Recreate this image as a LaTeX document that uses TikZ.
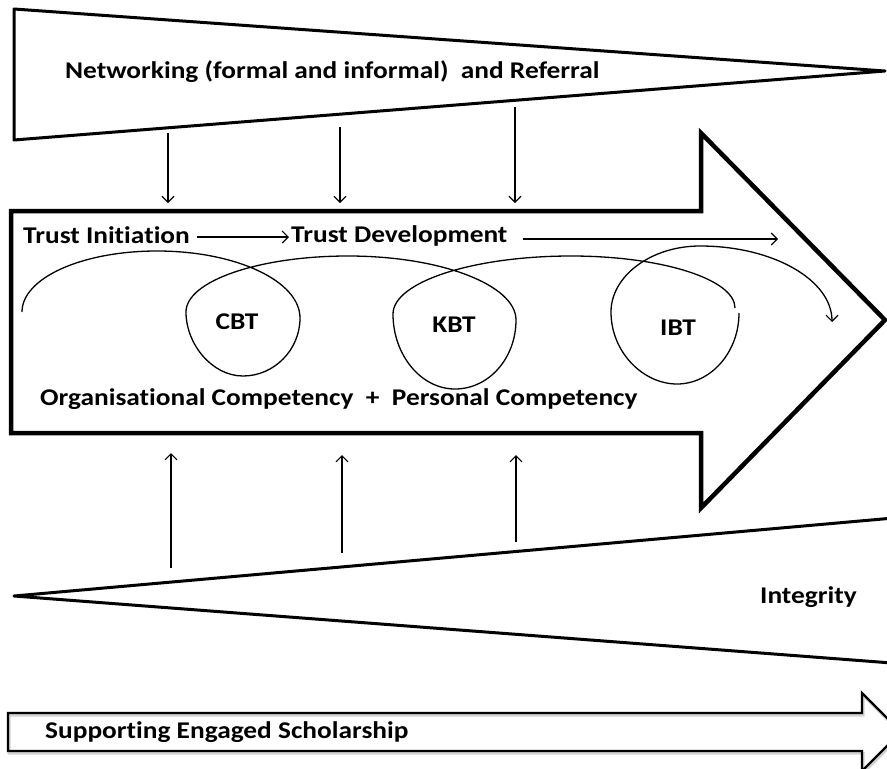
\documentclass[tikz,border=0pt]{standalone}
\usepackage{fontspec}
\setmainfont{Carlito}[FakeStretch=1.14, Ligatures=NoCommon]
\usetikzlibrary{arrows.meta}
\begin{document}
\begin{tikzpicture}[x=1pt,y=1pt,
  lbl/.style={font=\fontsize{24}{28}\selectfont\bfseries, inner sep=0pt, anchor=base west},
  clbl/.style={font=\fontsize{24}{28}\selectfont\bfseries, inner sep=0pt},
  thinarrow/.style={line width=1.1pt, -{Straight Barb[length=6pt,width=12pt,line width=1.1pt]}},
  coil/.style={line width=1.3pt},
  bigshape/.style={line width=4.5pt, line join=miter},
  wedge/.style={line width=3pt, line join=round}]
\useasboundingbox (0,0) rectangle (887,-769);

% top wedge
\draw[wedge] (14,-9) -- (885,-71) -- (14,-140) -- cycle;
\node[lbl] (net) at (65,-78) {Networking (formal and informal)\ \ and Referral};

% big arrow
\draw[bigshape] (11,-211) -- (701,-211) -- (701,-133) -- (885,-320) -- (701,-508) -- (701,-433) -- (11,-433) -- cycle;

% bottom wedge
\draw[wedge] (905,-517) -- (14,-596) -- (905,-664);
\node[lbl] (integ) at (760,-603) {Integrity};

% bottom arrow
\draw[line width=3pt, gray!35, line join=miter, shift={(1pt,-2pt)}] (8,-713) -- (862,-713) -- (862,-693) -- (901,-732) -- (862,-771) -- (862,-751) -- (8,-751) -- cycle;
\draw[line width=2.4pt, line join=miter] (8,-713) -- (862,-713) -- (862,-693) -- (901,-732) -- (862,-771) -- (862,-751) -- (8,-751) -- cycle;
\node[lbl] (ses) at (45,-738) {Supporting Engaged Scholarship};

% texts in the big arrow
\node[lbl] (ti) at (23,-243) {Trust Initiation};
\node[lbl] (td) at (291,-242) {Trust Development};
\node[clbl] (cbt) at (237,-322) {CBT};
\node[clbl] (kbt) at (454,-325) {KBT};
\node[clbl] (ibt) at (678,-328) {IBT};
\node[lbl] (comp) at (40,-405) {Organisational Competency\ \ +\ \ Personal Competency};

\coordinate (tdend) at (778,-239);
\draw[thinarrow] ([xshift=7pt]ti.east |- 0,-237) -- ([xshift=-2pt]td.west |- 0,-237);
\draw[thinarrow] ([xshift=15pt]td.east |- 0,-239) -- (tdend);

% down arrows
\coordinate (d1s) at (168,-133); \coordinate (d1e) at (168,-203);
\coordinate (d2s) at (340,-127); \coordinate (d2e) at (340,-203);
\coordinate (d3s) at (515,-107); \coordinate (d3e) at (515,-203);
\draw[thinarrow] (d1s) -- (d1e);
\draw[thinarrow] (d2s) -- (d2e);
\draw[thinarrow] (d3s) -- (d3e);

% up arrows
\coordinate (u1s) at (171,-568); \coordinate (u1e) at (171,-453);
\coordinate (u2s) at (342,-553); \coordinate (u2e) at (342,-455);
\coordinate (u3s) at (516,-542); \coordinate (u3e) at (516,-455);
\draw[thinarrow] (u1s) -- (u1e);
\draw[thinarrow] (u2s) -- (u2e);
\draw[thinarrow] (u3s) -- (u3e);

% coil
\draw[coil] (22,-312) .. controls (22,-278) and (82,-251) .. (157,-251)
  .. controls (236,-251) and (300,-281) .. (300,-318)
  .. controls (300,-350) and (274,-376) .. (243,-376)
  .. controls (212,-376) and (186,-344) .. (186,-312)
  .. controls (186,-281) and (259,-256) .. (348,-256)
  .. controls (441,-256) and (516,-285) .. (516,-320)
  .. controls (516,-358) and (489,-389) .. (455,-389)
  .. controls (421,-389) and (393,-355) .. (393,-314)
  .. controls (393,-282) and (473,-256) .. (571,-256)
  .. controls (661,-256) and (735,-279) .. (735,-308);
\coordinate (coilend) at (832,-322);
\draw[coil, -{Straight Barb[length=6pt,width=12pt,line width=1.1pt]}] (739,-313)
  .. controls (739,-352) and (711,-384) .. (677,-384)
  .. controls (643,-384) and (611,-352) .. (611,-312)
  .. controls (611,-276) and (651,-246) .. (700,-246)
  .. controls (773,-246) and (832,-280) .. (coilend);
\end{tikzpicture}
\end{document}
